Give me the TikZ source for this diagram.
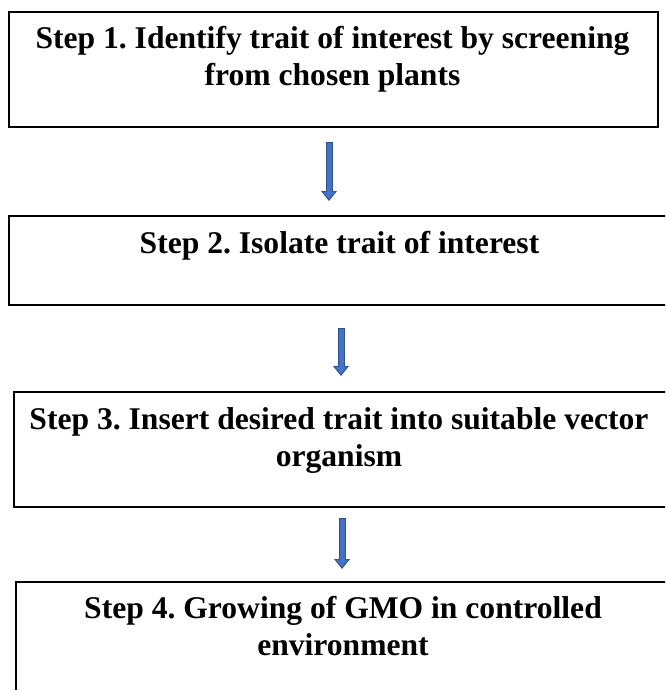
\documentclass[tikz,border=0pt]{standalone}
\usepackage{fontspec}
\setmainfont{Liberation Serif}
\usetikzlibrary{arrows.meta}
\definecolor{arrowline}{HTML}{2F528F}
\definecolor{arrowfill}{HTML}{4472C4}
\frenchspacing

\begin{document}
\begin{tikzpicture}[x=0.75pt,y=-0.75pt,
  stepbox/.style={draw, line width=1.5pt, inner sep=0pt},
  steptext/.style={anchor=north, align=center, inner sep=0pt,
    font=\bfseries\fontsize{23.7pt}{27.75pt}\selectfont},
  steparrow/.style={draw=arrowline, line width=5.25pt,
    -{Triangle[width=11.5pt,length=7.5pt]},
    postaction={draw=arrowfill, line width=3.75pt, shorten <=0.75pt, shorten >=1.3pt,
      -{Triangle[width=8.6pt,length=5.6pt]}}}]

\useasboundingbox (0,0) rectangle (665,690);
\clip (0,0) rectangle (665,690);

\node [stepbox, minimum width=486.75pt, minimum height=86.25pt] (box1) at (333.5,69.5) {};
\node [stepbox, minimum width=495.75pt, minimum height=66.75pt] (box2) at (339.5,260.5) {};
\node [stepbox, minimum width=490.5pt, minimum height=86.25pt] (box3) at (341,449.5) {};
\node [stepbox, minimum width=490.5pt, minimum height=88.5pt] (box4) at (343,641) {};


\node [steptext] (text1) at ([shift={(-1,15)}]box1.north) {Step 1. Identify trait of interest by screening\\from chosen plants};
\node [steptext] (text2) at ([shift={(0,16)}]box2.north) {Step 2. Isolate trait of interest};
\node [steptext] (text3) at ([shift={(-2,16)}]box3.north) {Step 3. Insert desired trait into suitable vector\\organism};
\node [steptext] (text4) at ([shift={(0,15)}]box4.north) {Step 4. Growing of GMO in controlled\\environment};


\draw [steparrow] ([shift={(-4.5,14)}]box1.south) -- ([shift={(-10.5,-14)}]box2.north);
\draw [steparrow] ([shift={(1.5,22)}]box2.south) -- ([shift={(0,-15)}]box3.north);
\draw [steparrow] ([shift={(1,10)}]box3.south) -- ([shift={(-1,-12)}]box4.north);


\end{tikzpicture}
\end{document}
